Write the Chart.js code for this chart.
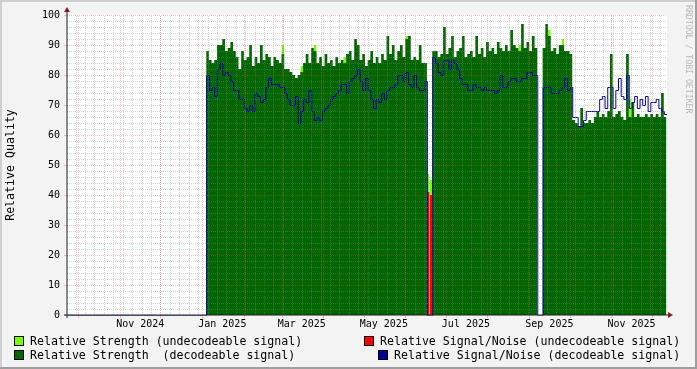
<!DOCTYPE html>
<html>
<head>
<meta charset="utf-8">
<title>Relative Quality</title>
<script src="https://cdn.jsdelivr.net/npm/chart.js@4.4.1/dist/chart.umd.min.js"></script>
<style>
  html, body { margin: 0; padding: 0; background: #F3F3F3; }
  #wrap { position: relative; width: 697px; height: 369px; overflow: hidden; }
  #chart { position: absolute; left: 0; top: 0; }
  .key { position: absolute; width: 8px; height: 8px; border: 1px solid #000; }
  .txt { position: absolute; font: 11.6px "DejaVu Sans Mono", monospace; line-height: 14px; color: #000; white-space: pre; }
  #mark { position: absolute; left: 684px; top: 5px; font: 8.2px "DejaVu Sans Mono", monospace; line-height: 10px; color: #B8B8B8; writing-mode: vertical-rl; white-space: pre; }
</style>
</head>
<body>
<div id="wrap">
  <canvas id="chart" width="697" height="369"></canvas>
  <div class="key" style="left:14px;top:336px;background:#77FF00"></div>
  <div class="txt" style="left:30px;top:334px">Relative Strength (undecodeable signal)</div>
  <div class="key" style="left:14px;top:350px;background:#006600"></div>
  <div class="txt" style="left:30px;top:348px">Relative Strength  (decodeable signal)</div>
  <div class="key" style="left:364px;top:336px;background:#FF0000"></div>
  <div class="txt" style="left:380px;top:334px">Relative Signal/Noise (undecodeable signal)</div>
  <div class="key" style="left:378px;top:350px;background:#000099"></div>
  <div class="txt" style="left:394px;top:348px">Relative Signal/Noise (decodeable signal)</div>
  <div id="mark">RRDTOOL / TOBI OETIKER</div>
</div>
<script>
// days are counted from 1 Oct 2024, one sample every 2 days from 4 Jan 2025
const firstDay = 95
const stepDays = 2
const xMin = -8.4
const xMax = 437.4

const monthStarts = [0, 31, 61, 92, 123, 151, 182, 212, 243, 273, 304, 335, 365, 396, 426]
const labelDays = [46, 107, 166, 227, 288, 350, 411]
const labelText = ["Nov 2024", "Jan 2025", "Mar 2025", "May 2025", "Jul 2025", "Sep 2025", "Nov 2025"]
const firstSunday = -2

// relative strength, decodeable signal
const strength = [
  88, 85, 84, 85, 90, 90, 92, 88, 89, 91,
  88, 86, 82, 88, 85, 86, 90, 83, 86, 84,
  90, 85, 87, 86, 83, 86, 85, 84, 87, 82,
  82, 81, 80, 79, 80, 81, 84, 87, 84, 89,
  88, 84, 86, 83, 87, 84, 85, 83, 86, 84,
  85, 84, 87, 88, 85, 92, 90, 85, 87, 83,
  85, 88, 84, 86, 84, 87, 85, 93, 87, 90,
  85, 88, 90, 86, 92, 93, 85, 86, 85, 90,
  84, 84, 0, 0, 88, 88, 86, 87, 96, 87,
  89, 93, 86, 88, 89, 93, 86, 87, 88, 86,
  93, 87, 89, 86, 91, 88, 89, 87, 91, 89,
  88, 90, 88, 95, 90, 89, 88, 97, 89, 91,
  88, 93, 89, 0, 0, 89, 97, 93, 88, 89,
  87, 90, 90, 88, 88, 87, 65, 64, 63, 69,
  64, 64, 65, 64, 66, 68, 66, 67, 66, 68,
  87, 66, 67, 68, 66, 65, 87, 66, 71, 66,
  67, 66, 66, 67, 66, 67, 66, 67, 66, 74,
  66,
]

// relative signal/noise, decodeable signal
const snr = [
  80, 75, 76, 73, 82, 84, 80, 81, 80, 78,
  75, 75, 72, 72, 69, 68, 70, 68, 74, 73,
  71, 72, 76, 79, 77, 77, 77, 76, 76, 74,
  72, 70, 70, 73, 64, 68, 72, 71, 75, 68,
  65, 66, 65, 68, 69, 70, 72, 73, 74, 75,
  77, 77, 74, 78, 79, 80, 82, 78, 75, 79,
  75, 72, 69, 72, 71, 74, 72, 75, 76, 76,
  77, 80, 80, 78, 81, 77, 76, 80, 76, 75,
  75, 78, 0, 0, 86, 84, 81, 80, 85, 85,
  82, 85, 84, 82, 79, 77, 77, 75, 75, 77,
  76, 76, 75, 76, 75, 75, 75, 74, 75, 80,
  76, 76, 78, 79, 79, 78, 78, 79, 79, 81,
  81, 80, 80, 0, 0, 76, 76, 76, 74, 74,
  74, 75, 76, 79, 75, 76, 66, 66, 63, 63,
  65, 68, 68, 68, 68, 68, 72, 73, 69, 76,
  76, 69, 75, 79, 73, 72, 80, 69, 71, 73,
  69, 72, 70, 73, 68, 71, 71, 72, 69, 68,
  67,
]

// relative strength, undecodeable signal (only where it shows)
const weakStrengthDays = [151, 165, 175, 197, 243, 259, 261, 327, 349, 359, 409]
const weakStrength = [90, 83, 90, 86, 93, 47, 45, 90, 95, 92, 72]

// relative signal/noise, undecodeable signal
const weakSnrDays = [259, 261]
const weakSnr = [41, 40]

const MINOR = "rgba(140,140,140,0.38)"
const MAJOR = "rgba(222,79,79,0.35)"
const FONT = "'DejaVu Sans Mono', monospace"

function series(values) {
  const pts = values.map((v, i) => ({ x: firstDay + i * stepDays, y: v }))
  pts.push({ x: firstDay + values.length * stepDays, y: values[values.length - 1] })
  return pts
}

function blocks(days, values) {
  const pts = []
  days.forEach((d, i) => {
    pts.push({ x: d, y: values[i] }, { x: d + stepDays, y: values[i] }, { x: d + stepDays, y: null })
  })
  return pts
}

const rrdFrame = {
  id: "rrdFrame",
  beforeDraw(chart) {
    const { ctx, width, height, chartArea: a } = chart
    ctx.save()
    ctx.fillStyle = "#F3F3F3"
    ctx.fillRect(0, 0, width, height)
    ctx.fillStyle = "#CFCFCF"
    ctx.fillRect(0, 0, width, 2)
    ctx.fillRect(0, 0, 2, height)
    ctx.fillStyle = "#9E9E9E"
    ctx.fillRect(0, height - 2, width, 2)
    ctx.fillRect(width - 2, 0, 2, height)
    ctx.fillStyle = "#FFFFFF"
    ctx.fillRect(a.left, a.top, a.right - a.left, a.bottom - a.top)
    ctx.restore()
  },
  // keep the 1px signal/noise line on whole pixels
  beforeDatasetDraw(chart, args) {
    if (args.index !== 3) return
    chart.ctx.save()
    chart.ctx.translate(0.5, 0.5)
  },
  afterDatasetDraw(chart, args) {
    if (args.index !== 3) return
    chart.ctx.restore()
  },
  afterDatasetsDraw(chart) {
    const { ctx, chartArea: a, scales } = chart
    const x = scales.x
    const y = scales.y
    const px = (d) => Math.round(x.getPixelForValue(d)) + 0.5
    const py = (v) => Math.round(y.getPixelForValue(v)) + 0.5

    ctx.save()
    ctx.lineWidth = 1
    ctx.setLineDash([1, 1])

    const vline = (d, color) => {
      const p = px(d)
      if (p < a.left || p > a.right) return
      ctx.strokeStyle = color
      ctx.beginPath()
      ctx.moveTo(p, a.bottom)
      ctx.lineTo(p, a.top)
      ctx.stroke()
    }
    const hline = (v, color) => {
      const p = py(v)
      ctx.strokeStyle = color
      ctx.beginPath()
      ctx.moveTo(a.left, p)
      ctx.lineTo(a.right, p)
      ctx.stroke()
    }

    for (let v = 2; v <= 100; v += 2) if (v % 10) hline(v, MINOR)
    for (let d = firstSunday; d <= xMax; d += 7) vline(d, MINOR)
    for (let v = 10; v <= 100; v += 10) hline(v, MAJOR)
    monthStarts.forEach((d) => vline(d, MAJOR))

    // small ticks outside the plot
    ctx.setLineDash([])
    ctx.strokeStyle = MAJOR
    monthStarts.forEach((d) => {
      const p = px(d)
      ctx.beginPath()
      ctx.moveTo(p, a.bottom)
      ctx.lineTo(p, a.bottom + 3)
      ctx.stroke()
    })
    for (let v = 0; v <= 100; v += 10) {
      const p = py(v)
      ctx.beginPath()
      ctx.moveTo(a.left - 3, p)
      ctx.lineTo(a.left, p)
      ctx.stroke()
    }

    // axes and arrows
    ctx.strokeStyle = "#1F1F1F"
    ctx.beginPath()
    ctx.moveTo(a.left, a.bottom + 3)
    ctx.lineTo(a.left, a.top - 3)
    ctx.stroke()
    ctx.beginPath()
    ctx.moveTo(a.left - 3, a.bottom)
    ctx.lineTo(a.right + 2, a.bottom)
    ctx.stroke()

    ctx.fillStyle = "#7F1F1F"
    ctx.beginPath()
    ctx.moveTo(a.left - 3, a.top - 3)
    ctx.lineTo(a.left + 3, a.top - 3)
    ctx.lineTo(a.left, a.top - 8)
    ctx.closePath()
    ctx.fill()
    ctx.beginPath()
    ctx.moveTo(a.right + 1, a.bottom - 3)
    ctx.lineTo(a.right + 1, a.bottom + 3)
    ctx.lineTo(a.right + 6, a.bottom)
    ctx.closePath()
    ctx.fill()
    ctx.restore()
  },
}

const area = (color, order) => ({
  stepped: "before",
  fill: "origin",
  backgroundColor: color,
  borderColor: "rgba(0,0,0,0)",
  borderWidth: 0,
  pointRadius: 0,
  pointHoverRadius: 0,
  spanGaps: false,
  order,
})

const canvas = document.getElementById("chart")

new Chart(canvas, {
  type: "line",
  data: {
    datasets: [
      { label: "Relative Strength (undecodeable signal)", data: blocks(weakStrengthDays, weakStrength), ...area("#77FF00", 4) },
      { label: "Relative Strength  (decodeable signal)", data: series(strength), ...area("#006600", 3) },
      { label: "Relative Signal/Noise (undecodeable signal)", data: blocks(weakSnrDays, weakSnr), ...area("#FF0000", 2) },
      {
        label: "Relative Signal/Noise (decodeable signal)",
        data: [{ x: xMin, y: 0 }, ...series(snr)],
        stepped: "before",
        fill: false,
        borderColor: "#000099",
        borderWidth: 1,
        pointRadius: 0,
        pointHoverRadius: 0,
        order: 1,
      },
    ],
  },
  options: {
    responsive: false,
    animation: false,
    devicePixelRatio: 1,
    events: [],
    layout: { padding: { left: 0, right: 30, top: 15, bottom: 0 } },
    plugins: { legend: { display: false }, tooltip: { enabled: false } },
    scales: {
      x: {
        type: "linear",
        min: xMin,
        max: xMax,
        grid: { display: false, drawTicks: false },
        border: { display: false },
        afterBuildTicks: (scale) => {
          scale.ticks = labelDays.map((d) => ({ value: d }))
        },
        afterFit: (scale) => {
          scale.height = 54
        },
        ticks: {
          autoSkip: false,
          maxRotation: 0,
          padding: 3,
          color: "#000",
          font: { family: FONT, size: 10 },
          callback: (v) => labelText[labelDays.indexOf(v)],
        },
      },
      y: {
        min: 0,
        max: 100,
        grid: { display: false, drawTicks: false },
        border: { display: false },
        afterFit: (scale) => {
          scale.width = 67
        },
        ticks: {
          stepSize: 10,
          padding: 7,
          color: "#000",
          font: { family: FONT, size: 10 },
        },
        title: {
          display: true,
          text: "Relative Quality",
          color: "#000",
          padding: { top: 4, bottom: 0 },
          font: { family: FONT, size: 11.6 },
        },
      },
    },
  },
  plugins: [rrdFrame],
})
</script>
</body>
</html>
